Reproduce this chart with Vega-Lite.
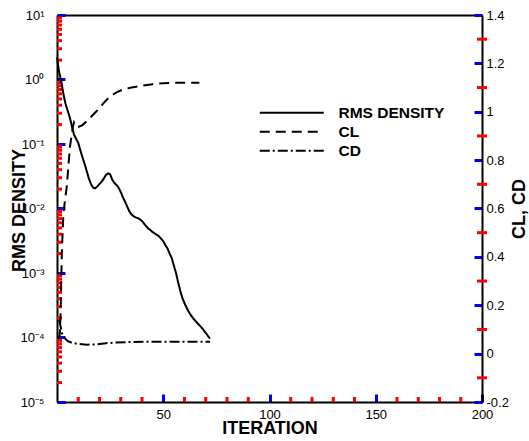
{
  "$schema": "https://vega.github.io/schema/vega-lite/v6.json",
  "width": 425,
  "height": 387,
  "autosize": "none",
  "padding": {"left": 57, "top": 15, "right": 47, "bottom": 39},
  "background": "white",
  "config": {
    "view": {"stroke": null},
    "font": "Liberation Sans",
    "axis": {
      "labelColor": "black", "labelFont": "Liberation Sans", "labelFontSize": 13,
      "titleColor": "black", "titleFont": "Liberation Sans", "titleFontSize": 18, "titleFontWeight": "bold",
      "grid": false
    }
  },
  "datasets": {
    "curves": [
      {"series": "RMS DENSITY", "iter": 0, "value": 2.2},
      {"series": "RMS DENSITY", "iter": 1, "value": 1.3},
      {"series": "RMS DENSITY", "iter": 2, "value": 0.95},
      {"series": "RMS DENSITY", "iter": 3, "value": 0.6},
      {"series": "RMS DENSITY", "iter": 4, "value": 0.42},
      {"series": "RMS DENSITY", "iter": 5, "value": 0.33},
      {"series": "RMS DENSITY", "iter": 6, "value": 0.26},
      {"series": "RMS DENSITY", "iter": 7, "value": 0.19},
      {"series": "RMS DENSITY", "iter": 8, "value": 0.14},
      {"series": "RMS DENSITY", "iter": 9, "value": 0.12},
      {"series": "RMS DENSITY", "iter": 10, "value": 0.104},
      {"series": "RMS DENSITY", "iter": 11, "value": 0.08},
      {"series": "RMS DENSITY", "iter": 12, "value": 0.062},
      {"series": "RMS DENSITY", "iter": 13, "value": 0.049},
      {"series": "RMS DENSITY", "iter": 14, "value": 0.038},
      {"series": "RMS DENSITY", "iter": 15, "value": 0.029},
      {"series": "RMS DENSITY", "iter": 16, "value": 0.024},
      {"series": "RMS DENSITY", "iter": 17, "value": 0.021},
      {"series": "RMS DENSITY", "iter": 18, "value": 0.0205},
      {"series": "RMS DENSITY", "iter": 19, "value": 0.022},
      {"series": "RMS DENSITY", "iter": 20, "value": 0.024},
      {"series": "RMS DENSITY", "iter": 21, "value": 0.026},
      {"series": "RMS DENSITY", "iter": 22, "value": 0.029},
      {"series": "RMS DENSITY", "iter": 23, "value": 0.033},
      {"series": "RMS DENSITY", "iter": 24, "value": 0.035},
      {"series": "RMS DENSITY", "iter": 25, "value": 0.034},
      {"series": "RMS DENSITY", "iter": 26, "value": 0.028},
      {"series": "RMS DENSITY", "iter": 27, "value": 0.025},
      {"series": "RMS DENSITY", "iter": 28, "value": 0.023},
      {"series": "RMS DENSITY", "iter": 29, "value": 0.021},
      {"series": "RMS DENSITY", "iter": 30, "value": 0.018},
      {"series": "RMS DENSITY", "iter": 31, "value": 0.015},
      {"series": "RMS DENSITY", "iter": 32, "value": 0.0128},
      {"series": "RMS DENSITY", "iter": 33, "value": 0.0108},
      {"series": "RMS DENSITY", "iter": 34, "value": 0.0091},
      {"series": "RMS DENSITY", "iter": 35, "value": 0.0081},
      {"series": "RMS DENSITY", "iter": 36, "value": 0.0076},
      {"series": "RMS DENSITY", "iter": 37, "value": 0.0073},
      {"series": "RMS DENSITY", "iter": 38, "value": 0.0071},
      {"series": "RMS DENSITY", "iter": 39, "value": 0.0068},
      {"series": "RMS DENSITY", "iter": 40, "value": 0.0064},
      {"series": "RMS DENSITY", "iter": 41, "value": 0.0058},
      {"series": "RMS DENSITY", "iter": 42, "value": 0.0053},
      {"series": "RMS DENSITY", "iter": 43, "value": 0.0049},
      {"series": "RMS DENSITY", "iter": 44, "value": 0.0046},
      {"series": "RMS DENSITY", "iter": 45, "value": 0.0043},
      {"series": "RMS DENSITY", "iter": 46, "value": 0.0041},
      {"series": "RMS DENSITY", "iter": 47, "value": 0.0039},
      {"series": "RMS DENSITY", "iter": 48, "value": 0.0037},
      {"series": "RMS DENSITY", "iter": 49, "value": 0.0034},
      {"series": "RMS DENSITY", "iter": 50, "value": 0.0031},
      {"series": "RMS DENSITY", "iter": 51, "value": 0.0027},
      {"series": "RMS DENSITY", "iter": 52, "value": 0.0024},
      {"series": "RMS DENSITY", "iter": 53, "value": 0.002},
      {"series": "RMS DENSITY", "iter": 54, "value": 0.0017},
      {"series": "RMS DENSITY", "iter": 55, "value": 0.0013},
      {"series": "RMS DENSITY", "iter": 56, "value": 0.001},
      {"series": "RMS DENSITY", "iter": 57, "value": 0.00072},
      {"series": "RMS DENSITY", "iter": 58, "value": 0.00053},
      {"series": "RMS DENSITY", "iter": 59, "value": 0.00041},
      {"series": "RMS DENSITY", "iter": 60, "value": 0.00034},
      {"series": "RMS DENSITY", "iter": 61, "value": 0.00029},
      {"series": "RMS DENSITY", "iter": 62, "value": 0.00025},
      {"series": "RMS DENSITY", "iter": 63, "value": 0.000222},
      {"series": "RMS DENSITY", "iter": 64, "value": 0.0002},
      {"series": "RMS DENSITY", "iter": 65, "value": 0.000183},
      {"series": "RMS DENSITY", "iter": 66, "value": 0.000168},
      {"series": "RMS DENSITY", "iter": 67, "value": 0.000155},
      {"series": "RMS DENSITY", "iter": 68, "value": 0.000143},
      {"series": "RMS DENSITY", "iter": 69, "value": 0.00013},
      {"series": "RMS DENSITY", "iter": 70, "value": 0.000118},
      {"series": "RMS DENSITY", "iter": 71, "value": 0.000106},
      {"series": "RMS DENSITY", "iter": 72, "value": 0.000096},
      {"series": "CL", "iter": 1, "value": 0.06},
      {"series": "CL", "iter": 1.4, "value": 0.09},
      {"series": "CL", "iter": 1.7, "value": 0.17},
      {"series": "CL", "iter": 2, "value": 0.3},
      {"series": "CL", "iter": 2.3, "value": 0.43},
      {"series": "CL", "iter": 2.7, "value": 0.51},
      {"series": "CL", "iter": 3, "value": 0.58},
      {"series": "CL", "iter": 4, "value": 0.65},
      {"series": "CL", "iter": 4.6, "value": 0.69},
      {"series": "CL", "iter": 5.5, "value": 0.79},
      {"series": "CL", "iter": 6.1, "value": 0.855},
      {"series": "CL", "iter": 7, "value": 0.91},
      {"series": "CL", "iter": 7.5, "value": 0.94},
      {"series": "CL", "iter": 8, "value": 0.955},
      {"series": "CL", "iter": 8.7, "value": 0.94},
      {"series": "CL", "iter": 10, "value": 0.937},
      {"series": "CL", "iter": 12, "value": 0.945},
      {"series": "CL", "iter": 15, "value": 0.97},
      {"series": "CL", "iter": 18, "value": 0.997},
      {"series": "CL", "iter": 20, "value": 1.015},
      {"series": "CL", "iter": 22, "value": 1.037},
      {"series": "CL", "iter": 25, "value": 1.064},
      {"series": "CL", "iter": 28, "value": 1.08},
      {"series": "CL", "iter": 31, "value": 1.092},
      {"series": "CL", "iter": 35, "value": 1.1},
      {"series": "CL", "iter": 40, "value": 1.108},
      {"series": "CL", "iter": 45, "value": 1.114},
      {"series": "CL", "iter": 50, "value": 1.118},
      {"series": "CL", "iter": 55, "value": 1.12},
      {"series": "CL", "iter": 60, "value": 1.12},
      {"series": "CL", "iter": 67, "value": 1.12},
      {"series": "CD", "iter": 1, "value": 0.14},
      {"series": "CD", "iter": 2, "value": 0.1},
      {"series": "CD", "iter": 2.5, "value": 0.08},
      {"series": "CD", "iter": 3.5, "value": 0.065},
      {"series": "CD", "iter": 5, "value": 0.052},
      {"series": "CD", "iter": 7, "value": 0.045},
      {"series": "CD", "iter": 10, "value": 0.04},
      {"series": "CD", "iter": 14, "value": 0.037},
      {"series": "CD", "iter": 18, "value": 0.038},
      {"series": "CD", "iter": 23, "value": 0.043},
      {"series": "CD", "iter": 28, "value": 0.046},
      {"series": "CD", "iter": 34, "value": 0.048},
      {"series": "CD", "iter": 45, "value": 0.049},
      {"series": "CD", "iter": 55, "value": 0.049},
      {"series": "CD", "iter": 72, "value": 0.049}
    ],
    "xMinor": [{"t": 10}, {"t": 20}, {"t": 30}, {"t": 40}, {"t": 60}, {"t": 70}, {"t": 80}, {"t": 90},
               {"t": 110}, {"t": 120}, {"t": 130}, {"t": 140}, {"t": 160}, {"t": 170}, {"t": 180}, {"t": 190}],
    "logMinor": [{"t": 0.00002}, {"t": 0.00003}, {"t": 0.00004}, {"t": 0.00005}, {"t": 0.00006}, {"t": 0.00007}, {"t": 0.00008}, {"t": 0.00009},
                 {"t": 0.0002}, {"t": 0.0003}, {"t": 0.0004}, {"t": 0.0005}, {"t": 0.0006}, {"t": 0.0007}, {"t": 0.0008}, {"t": 0.0009},
                 {"t": 0.002}, {"t": 0.003}, {"t": 0.004}, {"t": 0.005}, {"t": 0.006}, {"t": 0.007}, {"t": 0.008}, {"t": 0.009},
                 {"t": 0.02}, {"t": 0.03}, {"t": 0.04}, {"t": 0.05}, {"t": 0.06}, {"t": 0.07}, {"t": 0.08}, {"t": 0.09},
                 {"t": 0.2}, {"t": 0.3}, {"t": 0.4}, {"t": 0.5}, {"t": 0.6}, {"t": 0.7}, {"t": 0.8}, {"t": 0.9},
                 {"t": 2}, {"t": 3}, {"t": 4}, {"t": 5}, {"t": 6}, {"t": 7}, {"t": 8}, {"t": 9}],
    "linMinor": [{"t": -0.1}, {"t": 0.1}, {"t": 0.3}, {"t": 0.5}, {"t": 0.7}, {"t": 0.9}, {"t": 1.1}, {"t": 1.3}]
  },
  "data": {"name": "curves"},
  "layer": [
    {
      "data": {"name": "xMinor"},
      "mark": {"type": "tick", "orient": "vertical", "size": 10, "thickness": 3, "color": "red", "opacity": 1, "clip": true},
      "encoding": {
        "x": {"field": "t", "type": "quantitative", "scale": {"domain": [0, 200], "nice": false, "zero": false}, "axis": null},
        "y": {"datum": 0, "type": "quantitative", "scale": {"domain": [0, 1], "nice": false, "zero": false}, "axis": null}
      }
    },
    {
      "data": {"name": "logMinor"},
      "mark": {"type": "tick", "orient": "horizontal", "size": 10, "thickness": 3, "color": "red", "opacity": 1, "clip": true},
      "encoding": {
        "x": {"datum": 0, "type": "quantitative", "axis": null},
        "y": {"field": "t", "type": "quantitative", "scale": {"type": "log", "domain": [0.00001, 10], "nice": false}, "axis": null}
      }
    },
    {
      "data": {"name": "linMinor"},
      "mark": {"type": "tick", "orient": "horizontal", "size": 10, "thickness": 3, "color": "red", "opacity": 1, "clip": false},
      "encoding": {
        "x": {"datum": 200, "type": "quantitative", "axis": null},
        "y": {"field": "t", "type": "quantitative", "scale": {"domain": [-0.2, 1.4], "nice": false, "zero": false}, "axis": null}
      }
    },
    {
      "transform": [{"filter": "datum.series === 'RMS DENSITY'"}],
      "mark": {"type": "line", "color": "black", "strokeWidth": 2},
      "encoding": {
        "x": {"field": "iter", "type": "quantitative",
              "axis": {"orient": "bottom", "values": [50, 100, 150, 200], "tickSize": -8, "tickColor": "blue", "tickWidth": 3, "labelPadding": 14,
                       "domain": true, "domainColor": "black", "domainWidth": 2,
                       "labelFlush": false, "title": "ITERATION", "titleX": 212.5, "titleY": 31, "titleBaseline": "alphabetic", "titleAlign": "center"}},
        "y": {"field": "value", "type": "quantitative",
              "scale": {"type": "log", "domain": [0.00001, 10], "nice": false},
              "axis": {"orient": "left", "values": [0.00001, 0.0001, 0.001, 0.01, 0.1, 1, 10], "tickSize": -8, "tickColor": "blue", "tickWidth": 3, "labelPadding": 21,
                       "domain": true, "domainColor": "black", "domainWidth": 2,
                       "labelFlush": false,
                       "labelExpr": "['10⁻⁵','10⁻⁴','10⁻³','10⁻²','10⁻¹','10⁰','10¹'][round(log(datum.value)/LN10)+5]",
                       "title": "RMS DENSITY", "titleX": -33, "titleY": 195, "titleAngle": 270, "titleBaseline": "alphabetic", "titleAlign": "center"}},
        "strokeDash": {"field": "series", "type": "nominal",
                       "scale": {"domain": ["RMS DENSITY", "CL", "CD"], "range": [[1, 0], [10, 6], [10, 3, 2, 3]]},
                       "legend": {"orient": "none", "legendX": 227, "legendY": 90, "title": null,
                                  "symbolType": "M-8,0H8", "symbolSize": 64, "symbolStrokeWidth": 2, "symbolStrokeColor": "black",
                                  "labelFontSize": 15.5, "labelFontWeight": "bold", "labelColor": "black", "labelOffset": 39,
                                  "rowPadding": 2, "padding": 0}}
      }
    },
    {
      "transform": [{"filter": "datum.series !== 'RMS DENSITY'"}],
      "mark": {"type": "line", "color": "black", "strokeWidth": 2},
      "encoding": {
        "x": {"field": "iter", "type": "quantitative",
              "axis": {"orient": "top", "ticks": false, "labels": false, "domain": true, "domainColor": "black", "domainWidth": 2, "title": null}},
        "y": {"field": "value", "type": "quantitative",
              "scale": {"domain": [-0.2, 1.4], "nice": false, "zero": false},
              "axis": {"orient": "right", "values": [-0.2, 0, 0.2, 0.4, 0.6, 0.8, 1, 1.2, 1.4], "tickSize": -8, "tickColor": "blue", "tickWidth": 3, "labelPadding": 12,
                       "domain": true, "domainColor": "black", "domainWidth": 2,
                       "labelFlush": false,
                       "labelExpr": "replace(format(datum.value, '.1~f'), '−', '-')",
                       "title": "CL, CD", "titleX": 42, "titleY": 193.5, "titleAngle": 270, "titleBaseline": "alphabetic", "titleAlign": "center"}},
        "strokeDash": {"field": "series", "type": "nominal"},
        "detail": {"field": "series"}
      }
    }
  ],
  "resolve": {"scale": {"y": "independent"}, "axis": {"x": "independent"}}
}
